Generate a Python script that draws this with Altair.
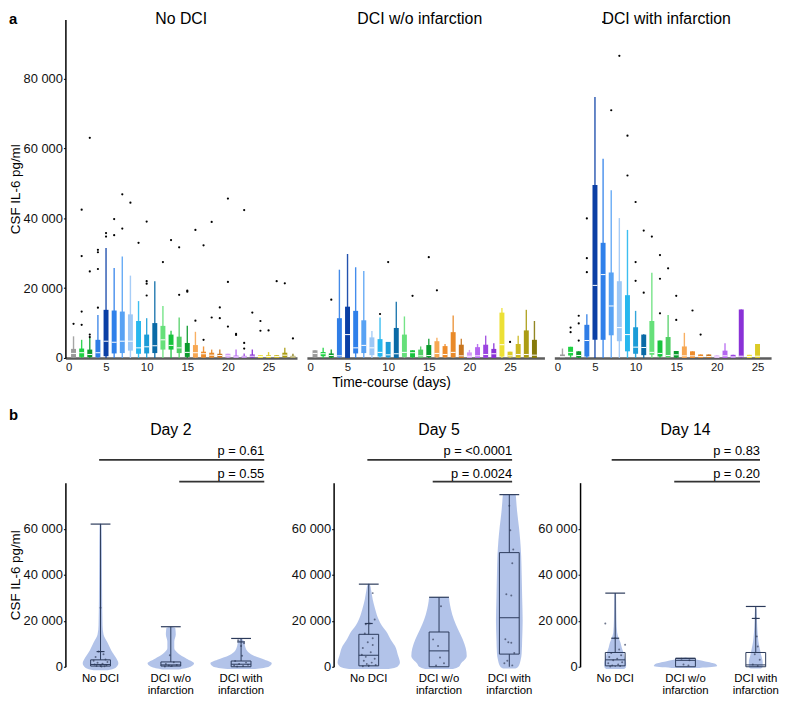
import altair as alt
import pandas as pd

FONT = "Liberation Sans"

# ---------------- panel a: daily CSF IL-6 box plots ----------------
DAY_COLORS = ["#9b9b9b", "#1fd143", "#0e9a2c", "#2f7de6", "#0b3fa5", "#2f80ea", "#57a2f4",
              "#9dc8f6", "#27b7ee", "#1b9cd7", "#0a6aa6", "#66e07a", "#18c33d", "#50cf64",
              "#0a9a2c", "#f7a752", "#ef8d2c", "#e98a29", "#c8761f", "#d39cf6", "#b566f0",
              "#9b44e0", "#8a32d7", "#ece035", "#dccb26", "#cbb821", "#ab9c13", "#867a0b"]
TOP_XTICKS = [0, 5, 10, 15, 20, 25]
TOP_YTICKS = [0, 20000, 40000, 60000, 80000]
GROUPS = ["No DCI", "DCI w/o infarction", "DCI with infarction"]

NO_DAYS = list(range(1, 29))
NO_Q1 = [100, 300, 200, 200, 500, 1300, 1400, 2100, 1200, 1300, 1400, 2400, 2400, 1400,
         300, 100, 100, 100, 100, 100, 0, 0, 100, 0, 0, 0, 200, 0]
NO_MED = [1300, 1500, 1000, 1500, 4800, 4500, 4800, 4800, 2900, 3200, 3500, 5200, 3600, 2900,
          1600, 1500, 1200, 800, 700, 600, 300, 300, 500, 400, 400, 400, 800, 300]
NO_Q3 = [2600, 2700, 2400, 5200, 13800, 13600, 13300, 12500, 10600, 6700, 10000, 9200, 6700, 6100,
         4300, 3700, 1800, 1500, 1200, 1200, 700, 600, 1000, 800, 800, 800, 1500, 600]
NO_HI = [6200, 5200, 5800, 12300, 31500, 25800, 29100, 23600, 16300, 11400, 22000, 14900, 7800, 11600,
         9200, 7500, 3300, 2400, 2400, 1200, 2400, 1300, 2400, 800, 1700, 800, 2900, 1200]
NO_OUT_DAY = [1, 2, 2, 2, 2, 3, 3, 3, 3, 4, 4, 4, 4, 5, 5, 6, 6, 7, 7, 8, 9, 10, 10, 10, 10,
              12, 13, 14, 14, 15, 15, 16, 16, 17, 17, 18, 18, 19, 19, 20, 20, 20, 21, 21,
              22, 22, 22, 23, 24, 24, 25, 26, 27, 28]
NO_OUT_VAL = [9800, 42500, 29200, 13300, 9500, 63100, 24800, 6700, 6000, 31000, 30300, 25500, 14400,
              35800, 34800, 39800, 35200, 46900, 37100, 44500, 33000, 39100, 22000, 21300, 17900,
              27500, 33800, 31700, 18100, 19300, 19000, 36700, 10700, 32300, 5200, 39000, 11600,
              14500, 11400, 45700, 21800, 9000, 6900, 6600, 42400, 4300, 2700, 13000, 10600, 7800,
              7900, 22000, 21400, 5600]

WO_DAYS = list(range(1, 29))
WO_Q1 = [200, 500, 100, 200, 0, 1300, 1400, 800, 400, 200, 0, 300, 200, 100,
         200, 200, 200, 200, 0, 0, 0, 0, 0, 400, 200, 0, 100, 0]
WO_MED = [1300, 1200, 700, 600, 6700, 2900, 3600, 2900, 1600, 900, 1200, 1600, 1500, 600,
          700, 1300, 1000, 1600, 600, 500, 600, 1000, 1200, 3800, 600, 1000, 1000, 800]
WO_Q3 = [2200, 1700, 1300, 11400, 14700, 13500, 10800, 5900, 5400, 4600, 8600, 6700, 2200, 2400,
         3700, 4800, 3400, 7400, 3800, 1600, 3100, 3800, 2600, 13000, 1800, 4000, 7900, 5200]
WO_HI = [2200, 2900, 2400, 25300, 29800, 26000, 24900, 7700, 11600, 4600, 16100, 11900, 2200, 3300,
         5500, 5800, 4000, 12200, 5500, 2300, 4000, 6400, 4200, 14300, 1800, 6400, 13800, 10600]
WO_OUT_DAY = [3, 9, 10, 13, 15, 16, 25]
WO_OUT_VAL = [16700, 12600, 27500, 17800, 28900, 19400, 4600]

WI_DAYS = [1, 2, 3, 4, 5, 6, 7, 8, 9, 10, 11, 12, 13, 14, 15, 16, 17, 18, 19, 20, 21, 22, 23, 24, 25]
WI_Q1 = [0, 700, 100, 400, 5200, 5200, 6500, 4800, 1900, 1200, 800, 900, 400, 200,
         100, 0, 0, 0, 0, 0, 0, 0, 200, 0, 0]
WI_MED = [400, 1600, 700, 5000, 20800, 23900, 14900, 8700, 6700, 3100, 3000, 1600, 1300, 700,
          900, 600, 600, 400, 400, 300, 600, 300, 500, 400, 500]
WI_Q3 = [1000, 3200, 1900, 9500, 49600, 33000, 24500, 22000, 18000, 8800, 6700, 10600, 5000, 6000,
         2000, 3300, 1900, 1000, 1000, 700, 2100, 900, 13900, 900, 4000]
WI_HI = [2700, 3200, 1900, 12500, 74800, 57100, 48100, 40100, 36700, 13500, 6800, 24400, 5000, 12300,
         2000, 7200, 1900, 1000, 1000, 700, 4200, 900, 13900, 900, 4000]
WI_OUT_DAY = [2, 2, 3, 3, 3, 4, 4, 4, 6, 7, 8, 9, 9, 10, 10, 10, 11, 11, 12, 13, 13, 13,
              14, 15, 15, 17, 18]
WI_OUT_VAL = [8700, 7400, 12100, 9900, 5000, 40000, 28600, 24600, 96300, 71000, 86600, 63700, 52300,
              44700, 27500, 22100, 36500, 18700, 34800, 29500, 22700, 12800, 25700, 17800, 10900,
              13600, 6700]

# ---------------- panel b: violin + box plots ----------------
CATS = [0, 1, 2]
CAT_LABELS = ["No DCI", "DCI w/o\ninfarction", "DCI with\ninfarction"]
BOT_YTICKS = [0, 20000, 40000, 60000]
DAYS_B = ["Day 2", "Day 5", "Day 14"]

# violin outlines: (value, half-width in px) per category
VIOLINS = {
    "Day 2": [
        [(-1500, 7), (-500, 15), (1500, 18), (4000, 15.5), (7000, 11), (10500, 7), (14000, 3),
         (18000, 2), (30000, 1.6), (50000, 1.3), (61500, 1), (62500, 0)],
        [(-1200, 8), (0, 20), (1500, 23.5), (3500, 16), (6000, 7), (8000, 3.5), (11000, 3.5),
         (14000, 5), (16800, 4.5), (17400, 0)],
        [(-1000, 14), (0, 28), (1500, 31), (3000, 24), (5000, 12), (7000, 6), (9000, 4),
         (11000, 3), (12400, 0)],
    ],
    "Day 5": [
        [(-1000, 20), (0, 29), (1800, 31.5), (5000, 29.5), (9000, 26.5), (12000, 22), (14500, 19),
         (18000, 13), (20500, 10), (25000, 6.5), (29200, 4), (33000, 2.5), (35900, 1), (36200, 0)],
        [(-1000, 14), (0, 20), (1300, 22), (4700, 28), (8000, 27), (11900, 24), (16000, 19.5),
         (20500, 15), (25000, 12), (28500, 10.5), (30200, 10), (30300, 0)],
        [(-800, 6), (0, 9), (3000, 11.5), (6000, 12.5), (12000, 13), (20000, 13.5), (30000, 13),
         (40000, 12.5), (48000, 12), (55000, 11), (60800, 9.7), (67000, 8), (72000, 7),
         (74800, 6.5), (75000, 0)],
    ],
    "Day 14": [
        [(-1000, 9), (0, 11), (1700, 11), (4000, 9.5), (6200, 8.3), (8500, 6.5), (10500, 5.3),
         (12500, 3.5), (14800, 2), (20000, 1.3), (28000, 1), (31800, 0.8), (32000, 0)],
        [(-500, 14), (300, 32), (1300, 30), (2300, 20), (3000, 12), (3600, 5), (4000, 0)],
        [(-800, 5), (0, 7), (2000, 7), (5000, 5.5), (8000, 4), (11000, 2.7), (15000, 1.8),
         (20000, 1.2), (25000, 0.8), (26200, 0)],
    ],
}
BOX_Q1 = {"Day 2": [300, 300, 0], "Day 5": [400, 0, 5500], "Day 14": [400, 0, 0]}
BOX_MED = {"Day 2": [1000, 800, 1100], "Day 5": [5000, 6900, 21300], "Day 14": [3000, 2800, 800]}
BOX_Q3 = {"Day 2": [3000, 2100, 2500], "Day 5": [14100, 15100, 49600], "Day 14": [6200, 3600, 6200]}
BOX_HI = {"Day 2": [62000, 17400, 12300], "Day 5": [35900, 30200, 74800], "Day 14": [32000, 3700, 26200]}
MEAN_CAT = {"Day 2": [0, 2], "Day 5": [0], "Day 14": [0, 2]}
MEAN_VAL = {"Day 2": [6600, 10800], "Day 5": [18800], "Day 14": [12400, 21000]}
# individual observations: (category, value, jitter in px)
POINTS = {
    "Day 2": [(0, 25600, 0), (0, 6600, -2), (0, 5400, 3), (0, 4200, -5), (0, 3200, 5), (0, 2600, -7),
              (0, 2100, 7), (0, 1700, -3), (0, 1300, 2), (0, 1000, -6), (0, 700, 6), (0, 500, 0),
              (0, 300, -4), (0, 200, 4), (0, 100, 1),
              (1, 5000, -1), (1, 2000, 3), (1, 1200, -5), (1, 800, 6), (1, 500, -2), (1, 300, 1), (1, 100, -6),
              (2, 11500, -3), (2, 10200, 3), (2, 9000, 0), (2, 4800, 1), (2, 2500, -6), (2, 1800, 5),
              (2, 1200, -2), (2, 900, 7), (2, 600, -7), (2, 300, 2), (2, 100, -4)],
    "Day 5": [(0, 32000, 4), (0, 20500, 6), (0, 18800, 1), (0, 18500, -3), (0, 14500, -4), (0, 12400, 4),
              (0, 10700, -1), (0, 9500, 4), (0, 8200, -6), (0, 6300, 2), (0, 5200, -7), (0, 4300, -3),
              (0, 3500, 6), (0, 2600, -5), (0, 1800, 3), (0, 1200, -2), (0, 800, 7), (0, 500, 0), (0, 200, -6),
              (1, 26300, 2), (1, 11900, -6), (1, 9000, -1), (1, 4000, 1), (1, 1500, 5), (1, 500, -3),
              (2, 70000, 0), (2, 59300, 1), (2, 51000, 4), (2, 45000, 3), (2, 31500, -3), (2, 31000, 2),
              (2, 12000, -4), (2, 10700, -1), (2, 10400, 2), (2, 6000, 5), (2, 2600, -2), (2, 1500, -5),
              (2, 600, 3)],
    "Day 14": [(0, 18800, -10), (0, 12400, 0), (0, 9600, 10), (0, 7500, 4), (0, 6000, -4), (0, 5000, 6),
               (0, 4200, -6), (0, 3500, 2), (0, 2800, -2), (0, 2000, 7), (0, 1500, -7), (0, 1000, 3),
               (0, 600, -3), (0, 300, 5), (0, 100, -5),
               (1, 3500, -4), (1, 2800, 4), (1, 1000, -2), (1, 500, 3),
               (2, 21000, 0), (2, 13200, 1), (2, 8800, 2), (2, 5400, -1), (2, 3000, 4), (2, 1000, -3),
               (2, 300, 2)],
}
P_TEXT = {"Day 2": ["p = 0.61", "p = 0.55"], "Day 5": ["p = <0.0001", "p = 0.0024"],
          "Day 14": ["p = 0.83", "p = 0.20"]}
P_LINE1 = {"Day 2": [-0.02, 2.33], "Day 5": [-0.02, 2.04], "Day 14": [-0.05, 2.06]}
P_LINE2 = {"Day 2": [1.12, 2.33], "Day 5": [0.91, 2.04], "Day 14": [0.84, 2.06]}

# ---------------- layout constants ----------------
TOP_H = 342
YMAX_TOP = 97020
TOP_W = [234, 240, 219]
TOP_XMAX = [28.5, 29.23, 26.67]
TITLE_DX = [0, -6, 4]
BOT_H = 186
BOT_W = [213, 191, 193]
BOT_XMAX = [2.5, 2.19, 2.218]
PX_PER_CAT = 71.0

LABEL_EXPR = "replace(format(datum.value, ','), ',', ' ')"
BOX_COLOR = "#2b3a5a"
VIOLIN_COLOR = "#aabde7"


def y_axis(values, title):
    kw = dict(values=values, labelExpr=LABEL_EXPR, grid=False, domainColor="black", domainWidth=1.5,
              tickColor="black", tickSize=2, tickWidth=1, labelFontSize=13, labelFont=FONT,
              labelColor="#111111", labelPadding=1)
    if title:
        kw.update(title=title, titleFontSize=13.5, titleFontWeight="normal", titleFont=FONT,
                  titlePadding=1, titleColor="black")
    else:
        kw.update(title=None)
    return alt.Axis(**kw)


def text_chart(txt, x, y, size, weight="normal", align="center"):
    return alt.Chart(pd.DataFrame({"t": [txt]})).mark_text(
        fontSize=size, fontWeight=weight, font=FONT, align=align, baseline="middle", color="black"
    ).encode(text="t:N", x=x, y=y)


def top_panel(i, days, q1, med, q3, hi, out_d, out_v):
    w, xmax = TOP_W[i], TOP_XMAX[i]
    df = pd.DataFrame({"day": days, "q1": q1, "med": med, "q3": q3, "hi": hi,
                       "lo": [0] * len(days), "col": [DAY_COLORS[d - 1] for d in days]})
    odf = pd.DataFrame({"day": out_d, "val": out_v})
    xs = alt.Scale(domain=[0, xmax], nice=False, zero=False)
    ys = alt.Scale(domain=[0, YMAX_TOP], nice=False)
    akw = dict(values=TOP_XTICKS, ticks=False, grid=False, domainColor="#5c5c5c", domainWidth=2.5,
               labelFontSize=11.5, labelFont=FONT, labelColor="#222222", labelPadding=4)
    if i == 1:
        akw.update(title="Time-course (days)", titleFontSize=14, titleFontWeight="normal",
                   titleFont=FONT, titleColor="black", titleX=85, titlePadding=2)
    else:
        akw.update(title=None)
    xax = alt.Axis(**akw)
    yax = y_axis(TOP_YTICKS, "CSF IL-6 pg/ml") if i == 0 else None

    def X(f):
        return alt.X(f, scale=xs, axis=xax)

    def Y(f):
        if yax is None:
            return alt.Y(f, scale=ys, axis=None)
        return alt.Y(f, scale=ys, axis=yax)

    col = alt.Color("col:N", scale=None)
    whisk = alt.Chart(df).mark_rule(strokeWidth=1.4, opacity=0.9).encode(
        x=X("day:Q"), y=Y("lo:Q"), y2="hi:Q", color=col)
    box = alt.Chart(df).mark_rule(strokeWidth=5, strokeCap="butt").encode(
        x=X("day:Q"), y=Y("q1:Q"), y2="q3:Q", color=col)
    medl = alt.Chart(df).mark_rule(color="white", strokeWidth=1, xOffset=-2.5, x2Offset=2.5).encode(
        x=X("day:Q"), x2="day:Q", y=Y("med:Q"))
    outl = alt.Chart(odf).mark_circle(size=5, color="black", opacity=1).encode(
        x=X("day:Q"), y=Y("val:Q"))
    layers = [whisk, box, medl, outl,
              text_chart(GROUPS[i], alt.value(w / 2 + TITLE_DX[i]), alt.value(0), 16)]
    if i == 0:
        layers.append(text_chart("a", alt.value(-57), alt.value(0), 15, "bold", "left"))
    return alt.layer(*layers).properties(width=w, height=TOP_H)


def bottom_panel(i, day):
    w, xmax = BOT_W[i], BOT_XMAX[i]
    xs = alt.Scale(domain=[-0.5, xmax], nice=False, zero=False)
    ys = alt.Scale(domain=[0, 80000], nice=False)
    yax = y_axis(BOT_YTICKS, "CSF IL-6 pg/ml" if i == 0 else None)

    def X(f):
        return alt.X(f, scale=xs, axis=None)

    def Y(f):
        return alt.Y(f, scale=ys, axis=yax)

    layers = []
    for c, outline in zip(CATS, VIOLINS[day]):
        vdf = pd.DataFrame({"val": [v for v, h in outline],
                            "left": [c - h / PX_PER_CAT for v, h in outline],
                            "right": [c + h / PX_PER_CAT for v, h in outline]})
        layers.append(alt.Chart(vdf).mark_area(orient="horizontal", color=VIOLIN_COLOR,
                                               opacity=0.9, interpolate="monotone").encode(
            y=Y("val:Q"), x=X("left:Q"), x2="right:Q"))

    bdf = pd.DataFrame({"cat": CATS, "q1": BOX_Q1[day], "med": BOX_MED[day], "q3": BOX_Q3[day],
                        "hi": BOX_HI[day], "lo": [0, 0, 0]})
    mdf = pd.DataFrame({"cat": MEAN_CAT[day], "val": MEAN_VAL[day]})
    pdf = pd.DataFrame([{"pos": c + j / PX_PER_CAT, "val": v} for c, v, j in POINTS[day]])
    ldf = pd.DataFrame({"cat": CATS, "label": CAT_LABELS})

    pts = alt.Chart(pdf).mark_circle(size=4, color="#3f4a66", opacity=0.75).encode(
        x=X("pos:Q"), y=Y("val:Q"))
    wlo = alt.Chart(bdf).mark_rule(color=BOX_COLOR, strokeWidth=1).encode(
        x=X("cat:Q"), y=Y("lo:Q"), y2="q1:Q")
    whi = alt.Chart(bdf).mark_rule(color=BOX_COLOR, strokeWidth=1).encode(
        x=X("cat:Q"), y=Y("q3:Q"), y2="hi:Q")
    box = alt.Chart(bdf).mark_rect(fillOpacity=0, stroke=BOX_COLOR, strokeWidth=1,
                                   xOffset=-10, x2Offset=10).encode(
        x=X("cat:Q"), x2="cat:Q", y=Y("q1:Q"), y2="q3:Q")
    medl = alt.Chart(bdf).mark_rule(color=BOX_COLOR, strokeWidth=1, xOffset=-10, x2Offset=10).encode(
        x=X("cat:Q"), x2="cat:Q", y=Y("med:Q"))
    cap = alt.Chart(bdf).mark_rule(color=BOX_COLOR, strokeWidth=1.2, xOffset=-10, x2Offset=10).encode(
        x=X("cat:Q"), x2="cat:Q", y=Y("hi:Q"))
    means = alt.Chart(mdf).mark_rule(color=BOX_COLOR, strokeWidth=1.2, xOffset=-4, x2Offset=4).encode(
        x=X("cat:Q"), x2="cat:Q", y=Y("val:Q"))
    labels = alt.Chart(ldf).mark_text(fontSize=11.5, font=FONT, baseline="top", lineBreak="\n",
                                      lineHeight=13, color="black").encode(
        x=X("cat:Q"), y=alt.value(BOT_H + 6), text="label:N")

    a1, b1 = P_LINE1[day]
    a2, b2 = P_LINE2[day]
    l1 = alt.Chart(pd.DataFrame({"a": [a1], "b": [b1]})).mark_rule(color="#333333", strokeWidth=1.8).encode(
        x=X("a:Q"), x2="b:Q", y=alt.value(-23))
    l2 = alt.Chart(pd.DataFrame({"a": [a2], "b": [b2]})).mark_rule(color="#333333", strokeWidth=1.8).encode(
        x=X("a:Q"), x2="b:Q", y=alt.value(-1))
    t1 = alt.Chart(pd.DataFrame({"x": [b1], "t": [P_TEXT[day][0]]})).mark_text(
        fontSize=13, font=FONT, align="right", baseline="middle", color="black").encode(
        x=X("x:Q"), y=alt.value(-32), text="t:N")
    t2 = alt.Chart(pd.DataFrame({"x": [b2], "t": [P_TEXT[day][1]]})).mark_text(
        fontSize=13, font=FONT, align="right", baseline="middle", color="black").encode(
        x=X("x:Q"), y=alt.value(-9), text="t:N")
    ttl = alt.Chart(pd.DataFrame({"x": [1], "t": [day]})).mark_text(
        fontSize=16, font=FONT, align="center", baseline="middle", color="black").encode(
        x=X("x:Q"), y=alt.value(-53), text="t:N")
    layers += [pts, wlo, whi, box, medl, cap, means, labels, l1, l2, t1, t2, ttl]
    if i == 0:
        layers.append(text_chart("b", alt.value(-57), alt.value(-68), 15, "bold", "left"))
    return alt.layer(*layers).properties(width=w, height=BOT_H)


p1 = top_panel(0, NO_DAYS, NO_Q1, NO_MED, NO_Q3, NO_HI, NO_OUT_DAY, NO_OUT_VAL)
p2 = top_panel(1, WO_DAYS, WO_Q1, WO_MED, WO_Q3, WO_HI, WO_OUT_DAY, WO_OUT_VAL)
p3 = top_panel(2, WI_DAYS, WI_Q1, WI_MED, WI_Q3, WI_HI, WI_OUT_DAY, WI_OUT_VAL)
top_row = alt.hconcat(p1, p2, p3, spacing=10, bounds="flush")

b_panels = [bottom_panel(i, d) for i, d in enumerate(DAYS_B)]
bottom_row = alt.hconcat(*b_panels, spacing=58, bounds="flush")

chart = alt.vconcat(top_row, bottom_row, spacing=19).properties(
    padding=0, background="white"
).configure(font=FONT).configure_view(strokeWidth=0)

chart.save("out.html", embed_options={"renderer": "svg", "actions": False})
